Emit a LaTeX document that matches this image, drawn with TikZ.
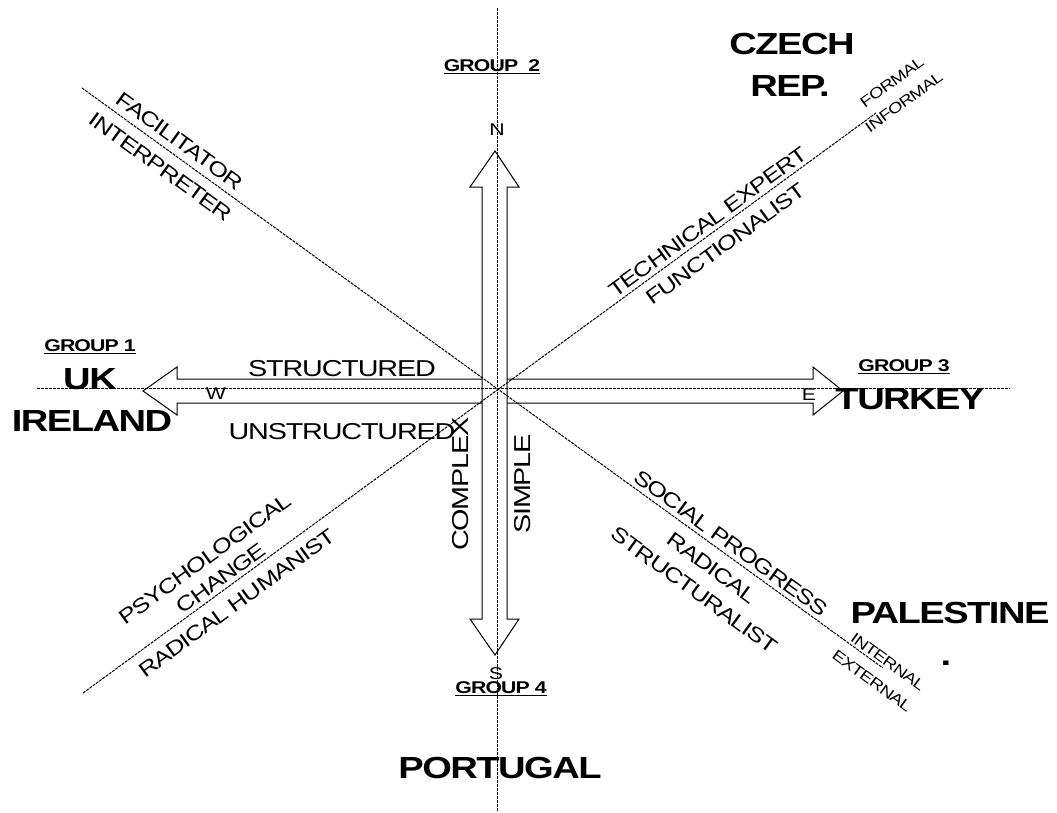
\documentclass[tikz,border=0pt]{standalone}
\usepackage{fontspec}
\newfontfamily\labelfont[FakeStretch=1.25,LetterSpace=-5]{Liberation Sans}

\begin{document}
\begin{tikzpicture}[x=1pt,y=-1pt,
    axis/.style={line width=1pt, dash pattern=on 3pt off 1pt},
    bigarrow/.style={line width=1pt, fill=white},
    lbl/.style={inner sep=0pt, font=\labelfont\fontsize{23}{24}\selectfont},
    diag/.style={inner sep=0pt, font=\labelfont\fontsize{20.5}{22}\selectfont},
    tiny/.style={inner sep=0pt, font=\labelfont\fontsize{15}{16}\selectfont},
    pole/.style={inner sep=0pt, font=\labelfont\fontsize{17}{18}\selectfont},
    grp/.style={inner sep=0pt, font=\labelfont\bfseries\fontsize{17}{18}\selectfont},
    country/.style={inner sep=0pt, font=\labelfont\bfseries\fontsize{30.5}{32}\selectfont}]
  \useasboundingbox (0,0) rectangle (1057,812);

  % double arrows
  \draw[bigarrow] (177,379) -- (177,367) -- (143,391) -- (177,415) -- (177,403)
    -- (813,403) -- (813,415) -- (843,391) -- (813,367) -- (813,379) -- cycle;
  \draw[bigarrow] (482,187) -- (470,187) -- (495,151) -- (519,187) -- (507,187)
    -- (507,619) -- (519,619) -- (495,655) -- (470,619) -- (482,619) -- cycle;

  % axes
  \coordinate (top) at (497,8);
  \coordinate (bottom) at (497,812);
  \coordinate (west) at (37,388);
  \coordinate (east) at (1010,388);
  \coordinate (nw) at (82,88);
  \coordinate (se) at (883,668);
  \coordinate (sw) at (83,693);
  \coordinate (ne) at (876,113);
  \draw[axis] (top) -- (bottom);
  \draw[axis] (west) -- (east);
  \draw[axis] (nw) -- (se);
  \draw[axis] (sw) -- (ne);

  % compass and groups
  \node[grp] (group2) at (492,67) {\underline{GROUP\ \ 2}};
  \node[pole] (north) at (497,130) {N};
  \node[grp] (group1) at (90,347) {\underline{GROUP 1}};
  \node[country] (uk) at (90,379) {UK};
  \node[country] (ireland) at (92,421) {IRELAND};
  \node[pole] (westl) at (216,394) {W};
  \node[lbl] (structured) at (342,369) {STRUCTURED};
  \node[lbl] (unstructured) at (342,432) {UNSTRUCTURED};
  \node[lbl, rotate=90] (complex) at (461,484) {COMPLEX};
  \node[lbl, rotate=90] (simple) at (523,484) {SIMPLE};
  \node[pole] (eastl) at (809,395) {E};
  \node[grp] (group3) at (904,367) {\underline{GROUP 3}};
  \node[country] (turkey) at (910,399) {TURKEY};
  \node[country] (czech) at (792,44) {CZECH};
  \node[country] (rep) at (790,86) {REP.};
  \node[country] (palestine) at (950,613) {PALESTINE};
  \node[country] (dot) at (946,663) {.};
  \node[pole] (south) at (496,674) {S};
  \node[grp] (group4) at (501,689) {\underline{GROUP 4}};
  \node[country] (portugal) at (500,768) {PORTUGAL};

  % labels along the diagonals
  \node[diag, rotate=-36] (facil) at (180,141) {FACILITATOR};
  \node[diag, rotate=-36] (interp) at (161,167) {INTERPRETER};
  \node[diag, rotate=36] (techn) at (708,222) {TECHNICAL EXPERT};
  \node[diag, rotate=36] (funct) at (726,244) {FUNCTIONALIST};
  \node[tiny, rotate=36] (formal) at (892,82) {FORMAL};
  \node[tiny, rotate=36] (informal) at (904,102) {INFORMAL};
  \node[diag, rotate=36] (psych) at (205,559) {PSYCHOLOGICAL};
  \node[diag, rotate=36] (change) at (221,578) {CHANGE};
  \node[diag, rotate=36] (humanist) at (237,603) {RADICAL HUMANIST};
  \node[diag, rotate=-36] (social) at (731,543) {SOCIAL PROGRESS};
  \node[diag, rotate=-36] (radical) at (712,568) {RADICAL};
  \node[diag, rotate=-36] (structl) at (694,590) {STRUCTURALIST};
  \node[tiny, rotate=-36] (internal) at (888,662) {INTERNAL};
  \node[tiny, rotate=-36] (external) at (872,681) {EXTERNAL};
\end{tikzpicture}
\end{document}
